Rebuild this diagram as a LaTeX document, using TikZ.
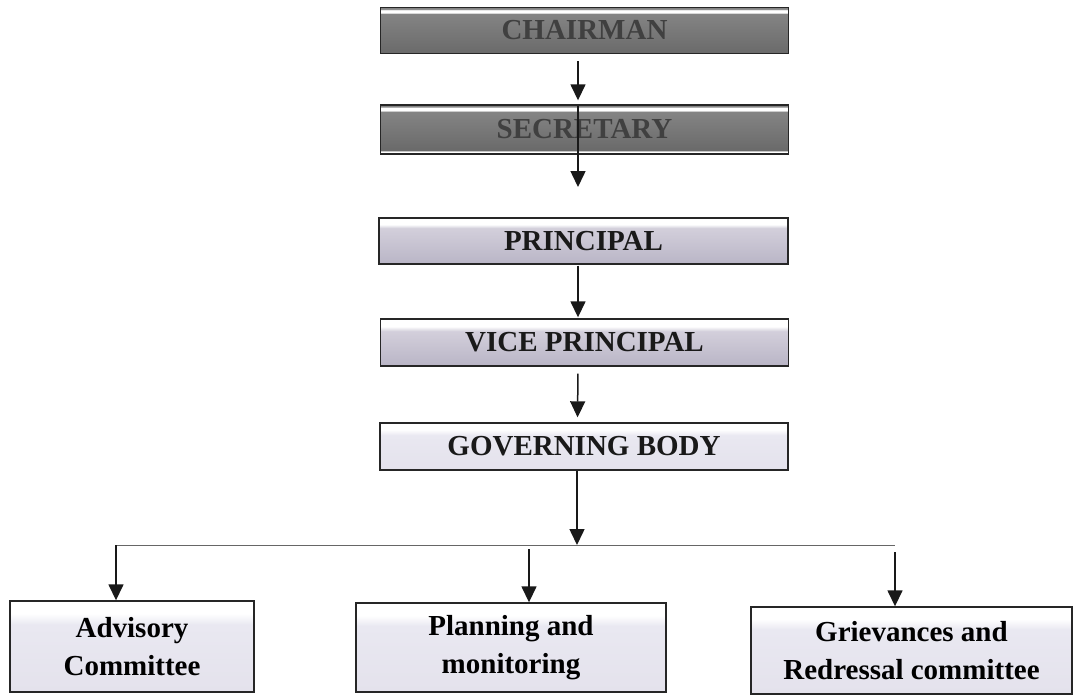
\documentclass[tikz,border=0pt]{standalone}
\usepackage{fontspec}
\setmainfont{Liberation Serif}
\usetikzlibrary{arrows.meta}
\definecolor{darkA}{HTML}{6A6A6A}
\definecolor{darkB}{HTML}{848484}
\definecolor{lavA}{HTML}{B9B5C6}
\definecolor{lavB}{HTML}{D3CFDB}
\definecolor{lavC}{HTML}{E4E2EC}
\definecolor{lavD}{HTML}{E9E8F1}
\definecolor{capgray}{HTML}{404040}
% shadings: 25bp = bottom edge, 75bp = top edge
\pgfdeclareverticalshading{chairbar}{100bp}{color(0bp)=(darkA); color(25bp)=(darkA);
  color(68bp)=(darkB); color(69.5bp)=(white); color(72bp)=(white);
  color(73.5bp)=(darkB); color(100bp)=(darkB)}
\pgfdeclareverticalshading{secbar}{100bp}{color(0bp)=(white); color(25bp)=(white);
  color(27.5bp)=(white); color(29bp)=(darkA); color(68bp)=(darkB);
  color(69.5bp)=(white); color(72bp)=(white); color(73.5bp)=(darkB); color(100bp)=(darkB)}
\pgfdeclareverticalshading{princbar}{100bp}{color(0bp)=(lavA); color(25bp)=(lavA);
  color(64bp)=(lavB); color(68bp)=(white); color(72bp)=(white); color(100bp)=(white)}
\pgfdeclareverticalshading{vpbar}{100bp}{color(0bp)=(lavA); color(25bp)=(lavA);
  color(62bp)=(lavB); color(67bp)=(white); color(100bp)=(white)}
\pgfdeclareverticalshading{gbbar}{100bp}{color(0bp)=(lavC); color(25bp)=(lavC);
  color(62bp)=(lavD); color(68bp)=(white); color(100bp)=(white)}
\begin{document}
\begin{tikzpicture}
        [x=1pt,y=-1pt,
        box/.style={draw=black!85, line width=1.4pt, inner sep=0pt,
            font=\fontsize{29}{38}\selectfont\bfseries, align=center},
        topbox/.style={box, minimum width=408pt, minimum height=47pt},
        lowbox/.style={box, shading=gbbar, minimum height=89pt},
        arr/.style={line width=1.5pt, draw=black!90,
            -{Triangle[width=15pt,length=16pt]}},
        bus/.style={line width=0.9pt, draw=black!60}]
        \useasboundingbox (0,0) rectangle (1080,697);
        % top chain
        \node[topbox,shading=chairbar,text=capgray,minimum height=46pt] (chair) at (584.5,30.5) {CHAIRMAN};
        \node[topbox,shading=secbar,text=capgray,minimum height=49pt] (secr) at (584.5,129.5) {SECRETARY};
        \node[topbox,shading=princbar,text=black!90,minimum width=409pt,minimum height=46pt] (princ) at (583.5,241) {PRINCIPAL};
        \node[topbox,shading=vpbar,text=black!90] (vp) at (584.5,342.5) {VICE PRINCIPAL};
        \node[topbox,shading=gbbar,text=black!90] (gb) at (584,446.5) {GOVERNING BODY};
        % committees
        \node[lowbox,minimum width=244pt,minimum height=91pt] (adv) at (132,646.5) {Advisory\\Committee};
        \node[lowbox,minimum width=310pt] (plan) at (511,647.5) {Planning and\\monitoring};
        \node[lowbox,minimum width=321pt,minimum height=87pt] (griev) at (911.5,650.5) {Grievances and\\Redressal committee};
        \coordinate (sdrop) at (578,187);
        \coordinate (busL) at (116,545);
        \coordinate (busM) at (577,545);
        \coordinate (busR) at (895,545);
        % connectors
        \draw[arr,shorten <=7pt,shorten >=4pt] ([xshift=-6.5pt]chair.south) -- ([xshift=-6.5pt]secr.north);
        \draw[arr,shorten <=2pt] ([xshift=-6.5pt]secr.north) -- (sdrop);
        \draw[arr,shorten <=1pt,shorten >=1pt] ([xshift=-5.5pt]princ.south) -- ([xshift=-5.5pt]vp.north -| princ.south);
        \draw[arr,shorten <=7pt,shorten >=5pt] ([xshift=-6.5pt]vp.south) -- ([xshift=-6.5pt]gb.north);
        \draw[arr] ([xshift=-7pt]gb.south) -- (busM);
        \draw[bus] (busL) -- (busR);
        \draw[arr] (busL) -- (busL |- adv.north);
        \draw[arr,shorten <=4pt] (busM -| plan.north) ++(18,0) coordinate (planTop) (planTop) -- (planTop |- plan.north);
        \draw[arr,shorten <=7pt] (busR) -- (busR |- griev.north);
\end{tikzpicture}
\end{document}
